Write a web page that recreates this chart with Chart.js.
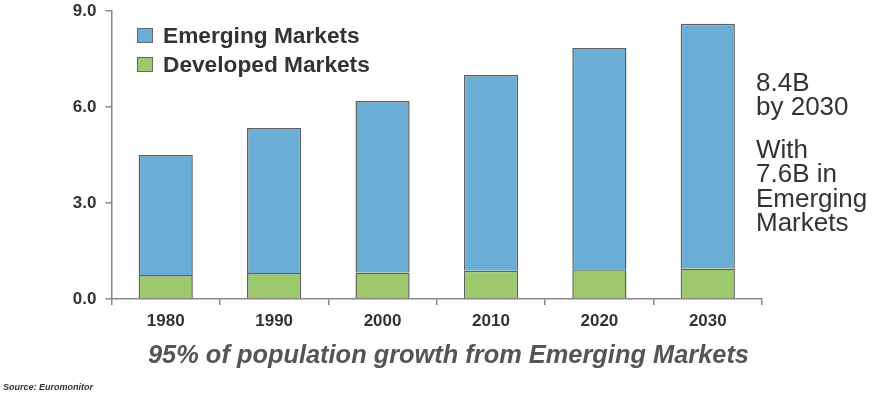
<!DOCTYPE html>
<html><head><meta charset="utf-8">
<script src="https://cdn.jsdelivr.net/npm/chart.js@4/dist/chart.umd.min.js"></script>
<style>
html,body{margin:0;padding:0;background:#fff;}
#wrap{position:relative;width:877px;height:395px;font-family:"Liberation Sans",Arial,sans-serif;}
canvas{position:absolute;left:0;top:0;}
.note{position:absolute;left:756px;color:#333;font-size:26px;line-height:24.3px;white-space:nowrap;}
#title{position:absolute;left:148px;top:342px;font-size:25.4px;line-height:25px;font-weight:bold;font-style:italic;color:#555;white-space:nowrap;}
#src{position:absolute;left:3px;top:382px;font-size:9px;line-height:10px;font-weight:bold;font-style:italic;color:#333;white-space:nowrap;}
</style></head>
<body><div id="wrap">
<canvas id="c" width="877" height="395"></canvas>
<div class="note" style="top:70px">8.4B<br>by 2030</div>
<div class="note" style="top:137px">With<br>7.6B in<br>Emerging<br>Markets</div>
<div id="title">95% of population growth from Emerging Markets</div>
<div id="src">Source: Euromonitor</div>
</div>
<script>
const categories = ["1980","1990","2000","2010","2020","2030"];
const developed = [0.75, 0.81, 0.83, 0.88, 0.93, 0.95];
const emerging = [3.75, 4.53, 5.36, 6.12, 6.91, 7.65];
const yTicks = [0, 3, 6, 9];
const seriesNames = ["Emerging Markets", "Developed Markets"];
const colors = {emerging:"#6aaed6", developed:"#9dc86b"};

const legendPlugin = {
  id:"customLegend",
  afterDraw(chart){
    const ctx = chart.ctx;
    ctx.save();
    const items = [
      {label: seriesNames[0], color: colors.emerging, y: 35.5},
      {label: seriesNames[1], color: colors.developed, y: 64.5}
    ];
    items.forEach(it=>{
      ctx.fillStyle = it.color;
      ctx.fillRect(137.5, it.y-7, 15, 14);
      ctx.strokeStyle = "#666";
      ctx.lineWidth = 1;
      ctx.strokeRect(137.5, it.y-7, 15, 14);
      ctx.fillStyle = "#333";
      ctx.font = "bold 22.7px 'Liberation Sans', Arial, sans-serif";
      ctx.textBaseline = "middle";
      ctx.fillText(it.label, 163, it.y+1);
    });
    ctx.restore();
  }
};

new Chart(document.getElementById("c"), {
  type:"bar",
  data:{
    labels: categories,
    datasets:[
      {label: seriesNames[1], data: developed, backgroundColor: colors.developed, borderColor:"#5f5f5f", borderWidth:1.5, barPercentage:0.5, categoryPercentage:1},
      {label: seriesNames[0], data: emerging, backgroundColor: colors.emerging, borderColor:"#5f5f5f", borderWidth:1.5, barPercentage:0.5, categoryPercentage:1}
    ]
  },
  options:{
    responsive:false,
    animation:false,
    layout:{padding:{left:0,right:115,top:11,bottom:0}},
    plugins:{legend:{display:false}, tooltip:{enabled:false}},
    scales:{
      x:{
        stacked:true,
        grid:{display:true, drawOnChartArea:false, offset:true, tickLength:6, color:"#888", lineWidth:1.5},
        border:{display:true, color:"#888", width:1.5},
        ticks:{color:"#333", font:{family:"'Liberation Sans', Arial", size:17, weight:"bold"}, padding:6},
        afterFit(s){ s.height = 96; s.paddingLeft = 0; s.paddingRight = 0; }
      },
      y:{
        stacked:true, min:0, max:9,
        afterBuildTicks(s){ s.ticks = yTicks.map(v=>({value:v})); },
        grid:{display:true, drawOnChartArea:false, tickLength:6, color:"#888", lineWidth:1.5},
        border:{display:true, color:"#888", width:1.5},
        ticks:{color:"#333", font:{family:"'Liberation Sans', Arial", size:17, weight:"bold"}, padding:9, callback:v=>Number(v).toFixed(1)},
        afterFit(s){ s.width = 111.5; s.paddingTop = 0; s.paddingBottom = 0; }
      }
    }
  },
  plugins:[legendPlugin]
});
</script>
</body></html>
